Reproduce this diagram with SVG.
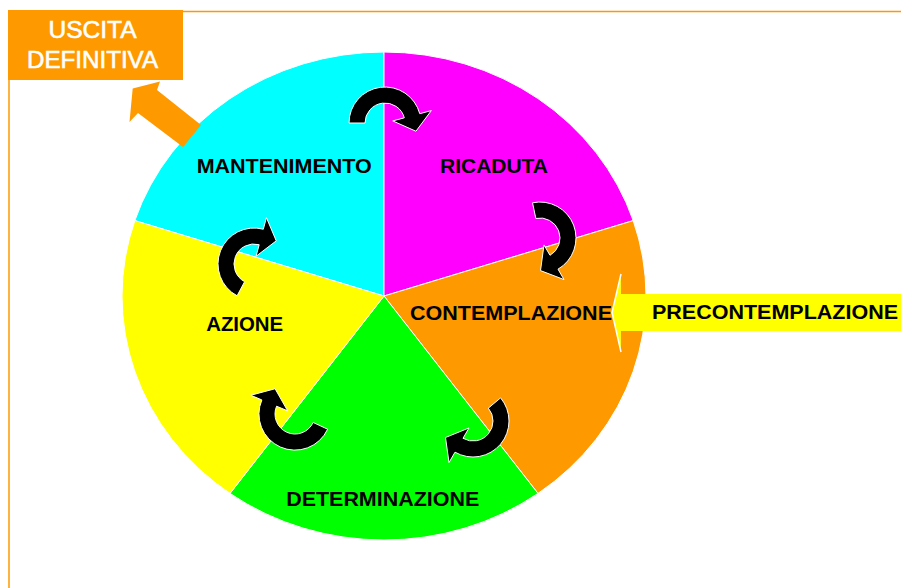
<svg xmlns="http://www.w3.org/2000/svg" width="901" height="588" viewBox="0 0 901 588">
<style>
.lbl{font-family:"Liberation Sans",Arial,sans-serif;font-weight:bold;font-size:21px;fill:#000;text-anchor:middle}
.slice{stroke:#fff;stroke-width:1}
.cyc{fill:#000;stroke:#fff;stroke-width:1;stroke-linejoin:round}
.exit{font-family:"Liberation Sans",Arial,sans-serif;font-size:24px;fill:#fff;stroke:#fff;stroke-width:0.6;text-anchor:middle}
</style>
<rect width="901" height="588" fill="#fff"/>
<path d="M9,588 V11.5 H901" fill="none" stroke="#FF9900" stroke-width="1.5"/>

<g id="mantenimento">
<path class="slice" fill="#00FFFF" d="M384,296 L134.82,220.6 A262,244 0 0 1 384,52 Z"/>
</g>
<g id="ricaduta">
<path class="slice" fill="#FF00FF" d="M384,296 L384,52 A262,244 0 0 1 633.18,220.6 Z"/>
</g>
<g id="contemplazione">
<path class="slice" fill="#FF9900" d="M384,296 L633.18,220.6 A262,244 0 0 1 538,493.4 Z"/>
</g>
<g id="determinazione">
<path class="slice" fill="#00FF00" d="M384,296 L538,493.4 A262,244 0 0 1 230,493.4 Z"/>
</g>
<g id="azione">
<path class="slice" fill="#FFFF00" d="M384,296 L230,493.4 A262,244 0 0 1 134.82,220.6 Z"/>
</g>

<g id="precontemplazione">
<polygon fill="#FFFF00" points="612,312.5 621,274 621,294 901,294 901,331 621,331 621,352"/>
<polyline fill="none" stroke="#fff" stroke-width="1.5" points="621,274 612,312.5 621,352"/>
</g>

<g id="uscita-definitiva">
<polygon fill="#FF9900" points="132.7,88.5 160,81.5 157,90 201,125 183,147 138,113 129.5,122"/>
<rect x="8" y="10" width="175" height="70" fill="#FF9900"/>
<text class="exit" x="92.5" y="37.7" textLength="88" lengthAdjust="spacingAndGlyphs">USCITA</text>
<text class="exit" x="92.5" y="68.3" textLength="131" lengthAdjust="spacingAndGlyphs">DEFINITIVA</text>
</g>

<g id="connectors">
<path class="cyc" d="M349,123 A36,36 0 0 1 419.77,113.68 L431.36,110.58 L415.93,131.24 L392.72,120.93 L404.31,117.82 A20,20 0 0 0 365,123 Z"/>
<path class="cyc" d="M532.51,202.79 A36,36 0 0 1 558,269.18 L564,279.57 L540.5,270.6 L544,244.93 L550,255.32 A20,20 0 0 0 535.84,218.44 Z"/>
<path class="cyc" d="M500.58,397.86 A36,36 0 0 1 455,452.18 L449,462.57 L445.5,437.5 L469,427.93 L463,438.32 A20,20 0 0 0 488.32,408.14 Z"/>
<path class="cyc" d="M327.63,429.21 A36,36 0 0 1 261.86,399.93 L250.82,395.25 L275.09,388.75 L287.64,410.87 L276.59,406.19 A20,20 0 0 0 313.13,422.45 Z"/>
<path class="cyc" d="M237.1,295.79 A36,36 0 0 1 263.32,229.23 L266.42,217.64 L276.24,240.83 L256.07,256.28 L259.18,244.68 A20,20 0 0 0 244.61,281.66 Z"/>
</g>

<g id="labels">
<text class="lbl" x="284.2" y="173" textLength="175" lengthAdjust="spacingAndGlyphs">MANTENIMENTO</text>
<text class="lbl" x="494" y="173" textLength="108" lengthAdjust="spacingAndGlyphs">RICADUTA</text>
<text class="lbl" x="511" y="320" textLength="202" lengthAdjust="spacingAndGlyphs">CONTEMPLAZIONE</text>
<text class="lbl" x="244.7" y="331" textLength="77" lengthAdjust="spacingAndGlyphs">AZIONE</text>
<text class="lbl" x="382.7" y="506" textLength="193" lengthAdjust="spacingAndGlyphs">DETERMINAZIONE</text>
<text class="lbl" x="775" y="319" textLength="246" lengthAdjust="spacingAndGlyphs">PRECONTEMPLAZIONE</text>
</g>
</svg>
